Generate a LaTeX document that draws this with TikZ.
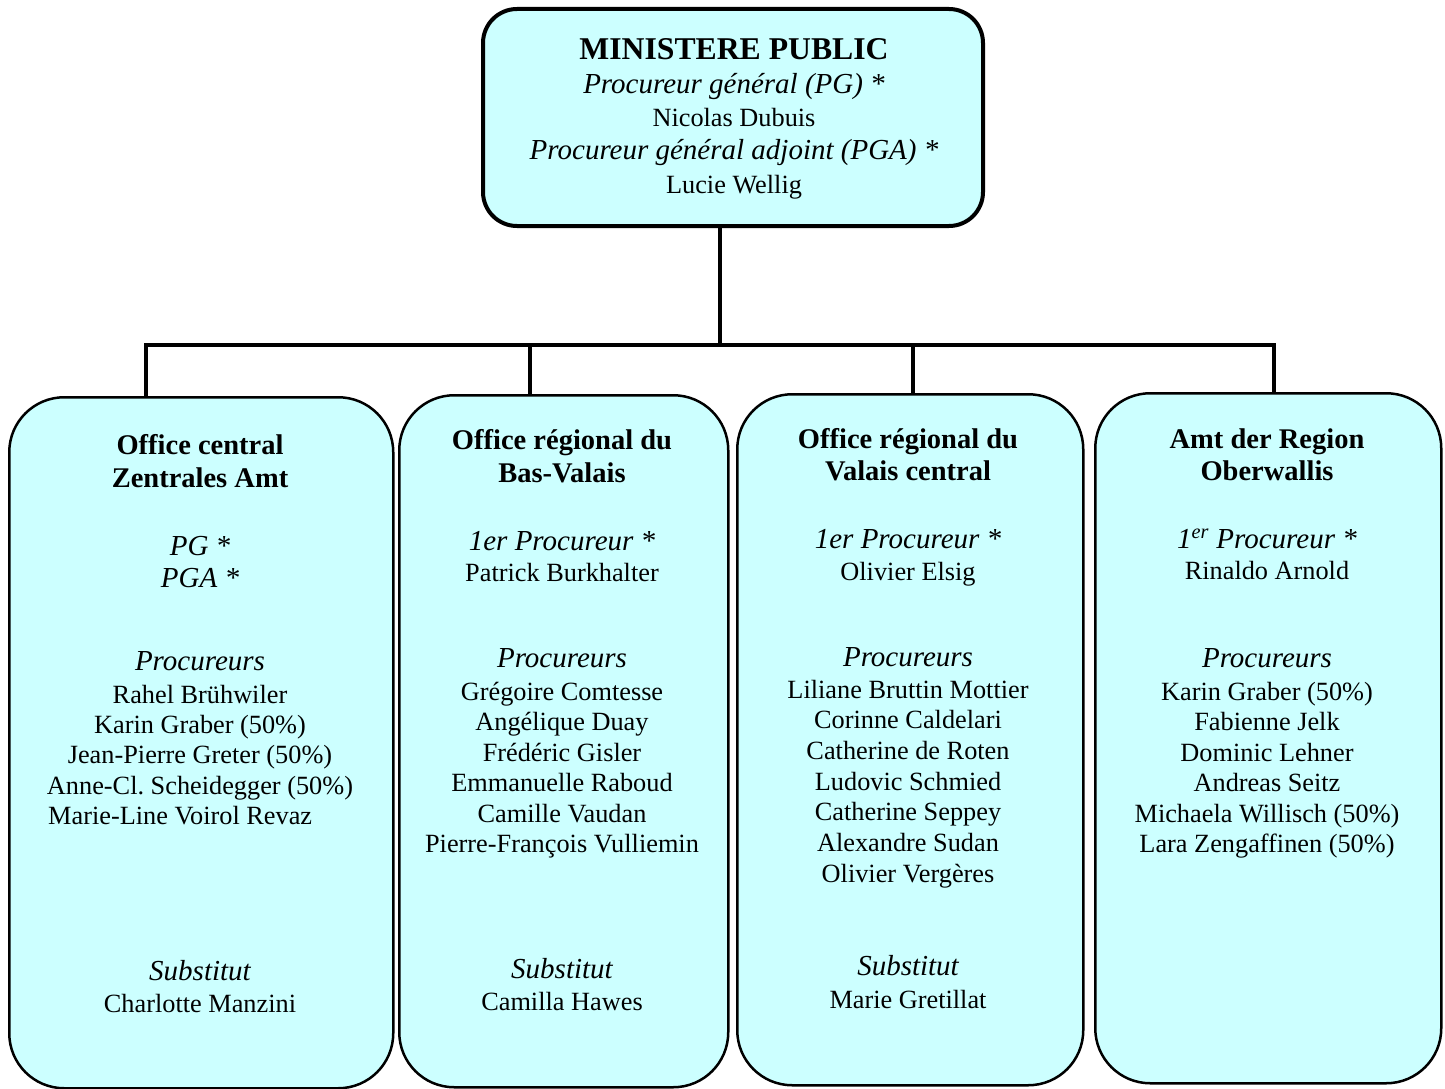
\documentclass[tikz,border=0pt]{standalone}
\usepackage{fontspec}
\setmainfont{Liberation Serif}
\frenchspacing
\definecolor{boxcyan}{HTML}{CCFFFF}
\newcommand\fsName{\fontsize{26.3pt}{30pt}\selectfont}
\newcommand\fsItal{\fontsize{29pt}{33pt}\selectfont\itshape}
\newcommand\fsBold{\fontsize{28.5pt}{33pt}\selectfont\bfseries}
\newcommand\fsTitle{\fontsize{31.7pt}{35pt}\selectfont\bfseries}
\tikzset{
  box/.style={draw=black, line width=2.5pt, fill=boxcyan, rounded corners=55pt,
              anchor=north west, inner sep=0pt},
  topbox/.style={box, line width=4pt, rounded corners=34pt},
  conn/.style={line width=3.5pt, line join=miter},
  tn/.style={anchor=base, inner sep=0pt, font=\fsName},
  ti/.style={anchor=base, inner sep=0pt, font=\fsItal},
  tb/.style={anchor=base, inner sep=0pt, font=\fsBold},
  tt/.style={anchor=base, inner sep=0pt, font=\fsTitle},
}
\begin{document}
\begin{tikzpicture}[x=1pt,y=-1pt]
\useasboundingbox (0,0) rectangle (1445,1089);

% boxes
\node[topbox, minimum width=500pt, minimum height=217pt] (top) at (481,7) {};
\node[box, minimum width=384pt, minimum height=691pt] (b1) at (8,396) {};
\node[box, minimum width=329pt, minimum height=692pt] (b2) at (398,394) {};
\node[box, minimum width=346pt, minimum height=691pt] (b3) at (736,393) {};
\node[box, minimum width=346pt, minimum height=690pt] (b4) at (1094,392) {};

% connectors
\coordinate (trunk) at (720,345);
\coordinate (j1) at (146,345);
\coordinate (j2) at (530,345);
\coordinate (j3) at (913,345);
\coordinate (j4) at (1274,345);
\draw[conn] (trunk |- top.south) -- (trunk);
\draw[conn] (j1 |- b1.north) -- (j1) -- (j4) -- (j4 |- b4.north);
\draw[conn] (j2) -- (j2 |- b2.north);
\draw[conn] (j3) -- (j3 |- b3.north);

% top box text
\node[tt] (t1) at (734,60) {MINISTERE PUBLIC};
\node[ti] (t2) at (734,94) {Procureur général (PG) *};
\node[tn] (t3) at (734,127) {Nicolas Dubuis};
\node[ti] (t4) at (734,160) {Procureur général adjoint (PGA) *};
\node[tn] (t5) at (734,193) {Lucie Wellig};

% box 1
\node[tb] (a1) at (200,454) {Office central};
\node[tb] (a2) at (200,487) {Zentrales Amt};
\node[ti] (a3) at (200,555) {PG *};
\node[ti] (a4) at (200,587) {PGA *};
\node[ti] (a5) at (200,670) {Procureurs};
\node[tn] (a6) at (200,703) {Rahel Brühwiler};
\node[tn] (a7) at (200,733) {Karin Graber (50\%)};
\node[tn] (a8) at (200,763.5) {Jean-Pierre Greter (50\%)};
\node[tn] (a9) at (200,794) {Anne-Cl. Scheidegger (50\%)};
\node[tn, anchor=base west] (a10) at (48,824) {Marie-Line Voirol Revaz};
\node[ti] (a11) at (200,980) {Substitut};
\node[tn] (a12) at (200,1012) {Charlotte Manzini};

% box 2
\node[tb] (c1) at (562,449) {Office régional du};
\node[tb] (c2) at (562,482) {Bas-Valais};
\node[ti] (c3) at (562,550) {1er Procureur *};
\node[tn] (c4) at (562,581) {Patrick Burkhalter};
\node[ti] (c5) at (562,667) {Procureurs};
\node[tn] (c6) at (562,700) {Grégoire Comtesse};
\node[tn] (c7) at (562,730.5) {Angélique Duay};
\node[tn] (c8) at (562,761) {Frédéric Gisler};
\node[tn] (c9) at (562,791.5) {Emmanuelle Raboud};
\node[tn] (c10) at (562,822) {Camille Vaudan};
\node[tn] (c11) at (562,852.5) {Pierre-François Vulliemin};
\node[ti] (c12) at (562,978) {Substitut};
\node[tn] (c13) at (562,1010) {Camilla Hawes};

% box 3
\node[tb] (d1) at (908,448) {Office régional du};
\node[tb] (d2) at (908,480) {Valais central};
\node[ti] (d3) at (908,548) {1er Procureur *};
\node[tn] (d4) at (908,580) {Olivier Elsig};
\node[ti] (d5) at (908,666) {Procureurs};
\node[tn] (d6) at (908,698) {Liliane Bruttin Mottier};
\node[tn] (d7) at (908,728.7) {Corinne Caldelari};
\node[tn] (d8) at (908,759.3) {Catherine de Roten};
\node[tn] (d9) at (908,790) {Ludovic Schmied};
\node[tn] (d10) at (908,820.7) {Catherine Seppey};
\node[tn] (d11) at (908,851.3) {Alexandre Sudan};
\node[tn] (d12) at (908,882) {Olivier Vergères};
\node[ti] (d13) at (908,975) {Substitut};
\node[tn] (d14) at (908,1008) {Marie Gretillat};

% box 4
\node[tb] (e1) at (1267,448) {Amt der Region};
\node[tb] (e2) at (1267,480) {Oberwallis};
\node[ti] (e3) at (1267,548) {1\textsuperscript{er} Procureur *};
\node[tn] (e4) at (1267,579) {Rinaldo Arnold};
\node[ti] (e5) at (1267,667) {Procureurs};
\node[tn] (e6) at (1267,700) {Karin Graber (50\%)};
\node[tn] (e7) at (1267,730.5) {Fabienne Jelk};
\node[tn] (e8) at (1267,761) {Dominic Lehner};
\node[tn] (e9) at (1267,791.5) {Andreas Seitz};
\node[tn] (e10) at (1267,822) {Michaela Willisch (50\%)};
\node[tn] (e11) at (1267,852.5) {Lara Zengaffinen (50\%)};
\end{tikzpicture}
\end{document}
